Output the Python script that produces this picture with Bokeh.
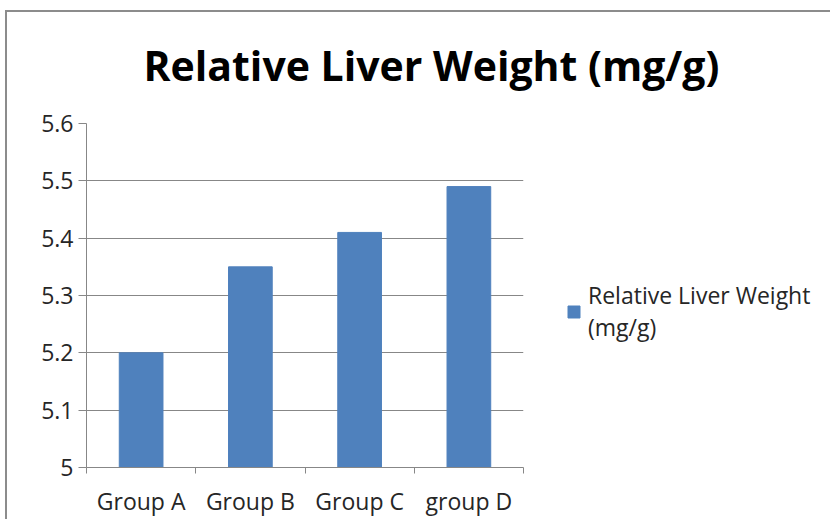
from bokeh.plotting import figure
from bokeh.models import (FixedTicker, Legend, LegendItem, Range1d, ColumnDataSource)
from bokeh.embed import file_html
from bokeh.resources import INLINE

# ---- data ----
categories = ["Group A", "Group B", "Group C", "group D"]
values = [5.20, 5.35, 5.41, 5.49]
y_ticks = [5.0, 5.1, 5.2, 5.3, 5.4, 5.5, 5.6]
y_tick_labels = ["5", "5.1", "5.2", "5.3", "5.4", "5.5", "5.6"]
series_name = "Relative Liver Weight\n(mg/g)"
title_text = "Relative Liver Weight (mg/g)"

FONT = "Open Sans"
GRAY = "#878787"
TXT = "#262626"
BAR = "#4F81BD"

x_pos = [i + 0.5 for i in range(len(categories))]
src = ColumnDataSource(dict(x=x_pos, top=values, cat=categories))

p = figure(frame_width=437, frame_height=344, output_backend="svg", toolbar_location=None,
           x_range=Range1d(0, len(categories)), y_range=Range1d(y_ticks[0], y_ticks[-1]),
           min_border_left=86, min_border_right=299, min_border_top=123,
           min_border_bottom=49)
p.outline_line_color = None
p.background_fill_color = "white"
p.border_fill_alpha = 0
# chart-area border (top and left edges; the rest runs off the picture)
p.styles = {"box-shadow": "inset 5px 10px 0 0 white, inset 7px 12px 0 0 #8c8c8c",
            "background-color": "white"}

r = p.vbar(x="x", top="top", bottom=y_ticks[0], width=0.4, source=src,
           fill_color=BAR, line_color=BAR)

# x axis: labels at centres, tick marks at category boundaries
xa = p.xaxis[0]
xa.ticker = FixedTicker(ticks=x_pos, minor_ticks=list(range(len(categories) + 1)))
xa.major_label_overrides = {x: c for x, c in zip(x_pos, categories)}
xa.major_tick_out = 0
xa.major_tick_in = 0
xa.minor_tick_out = 6
xa.minor_tick_in = 0
xa.minor_tick_line_color = GRAY
xa.axis_line_color = GRAY
xa.major_label_text_font = FONT
xa.major_label_text_font_size = "23px"
xa.major_label_text_color = TXT
xa.major_label_standoff = 11

ya = p.yaxis[0]
ya.ticker = FixedTicker(ticks=y_ticks)
ya.major_label_overrides = {t: l for t, l in zip(y_ticks, y_tick_labels)}
ya.major_tick_out = 8
ya.major_tick_in = 0
ya.minor_tick_line_color = None
ya.major_tick_line_color = GRAY
ya.axis_line_color = GRAY
ya.major_label_text_font = FONT
ya.major_label_text_font_size = "23px"
ya.major_label_text_color = TXT
ya.major_label_standoff = 5

p.xgrid.grid_line_color = None
p.ygrid.ticker = FixedTicker(ticks=y_ticks)
p.ygrid.grid_line_color = GRAY

# title
p.title.text = title_text
p.title.align = "left"
p.title.offset = 57
p.title.standoff = 62
p.title.text_font = FONT
p.title.text_font_style = "bold"
p.title.text_font_size = "41px"
p.title.text_color = "black"

legend = Legend(items=[LegendItem(label=series_name, renderers=[r])],
                location=(43, 124), glyph_width=15, glyph_height=15,
                label_standoff=7, padding=0, margin=0, border_line_color=None,
                background_fill_alpha=0, label_text_font=FONT,
                label_text_font_size="23px", label_text_color=TXT)
p.add_layout(legend, "right")

open("out.html", "w").write(file_html(p, INLINE))
